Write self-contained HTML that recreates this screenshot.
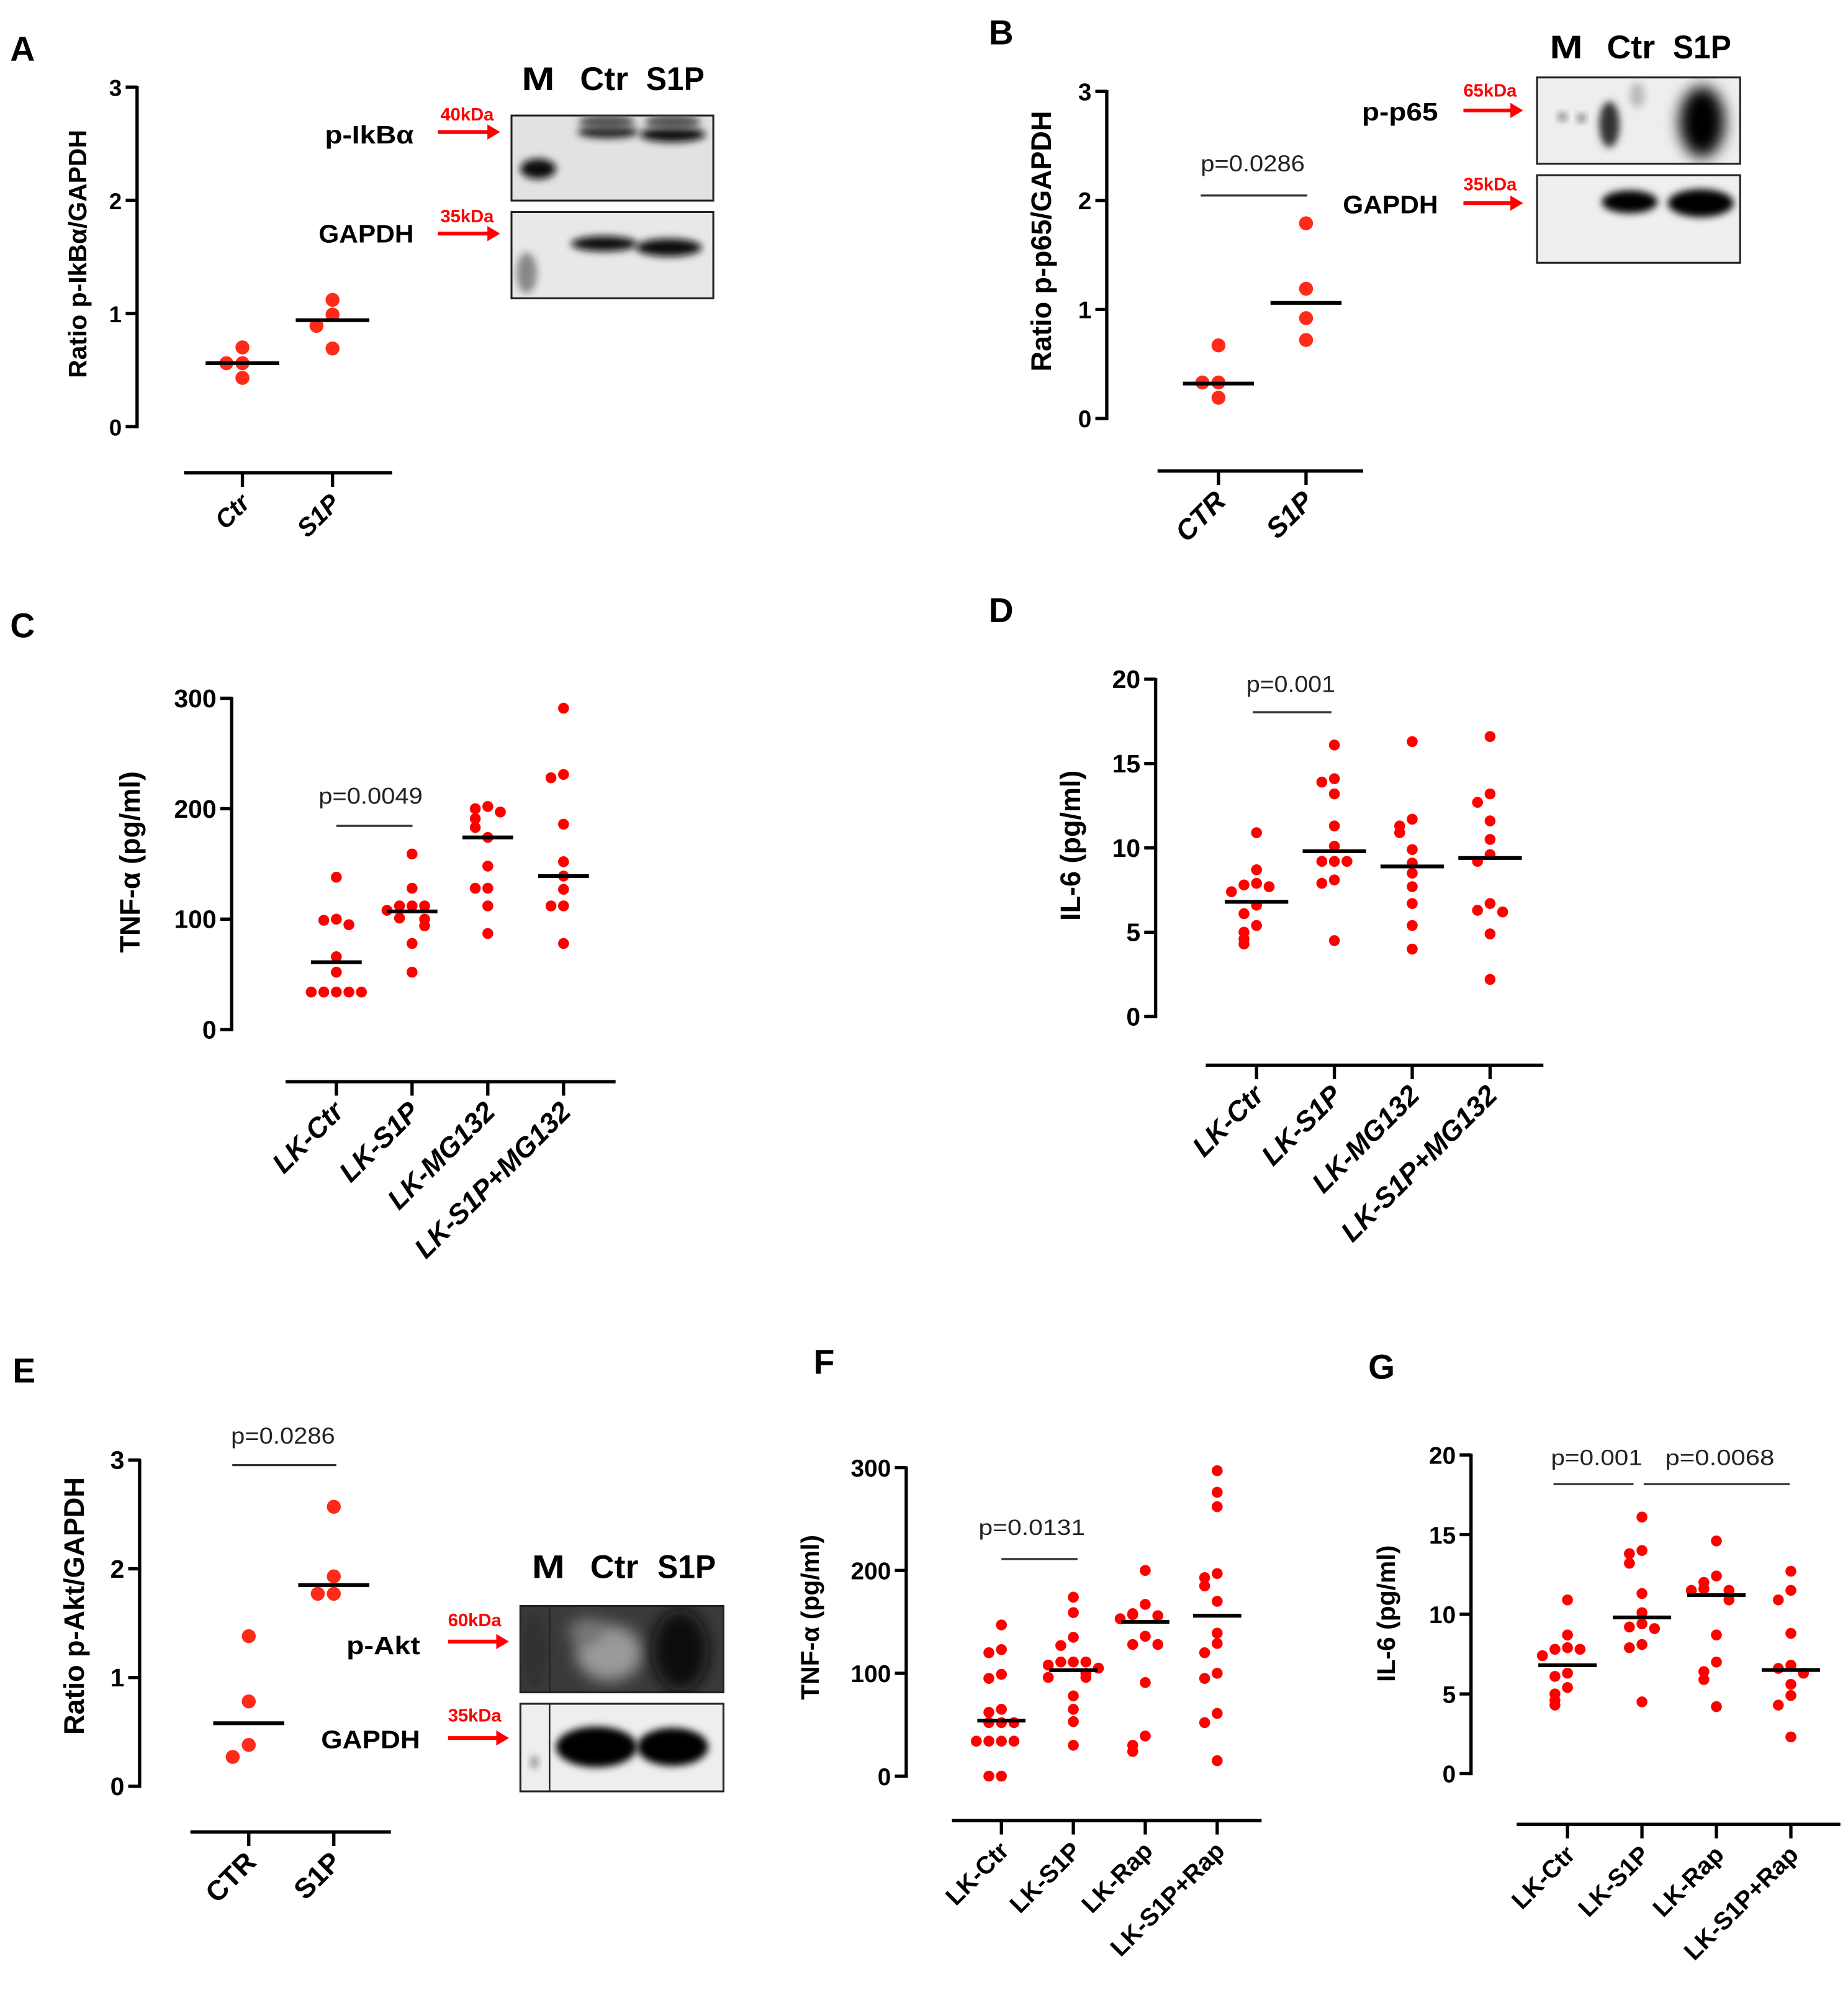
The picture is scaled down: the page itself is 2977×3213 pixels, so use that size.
<!DOCTYPE html>
<html><head><meta charset="utf-8"><style>
html,body{margin:0;padding:0;background:#fff}
svg{display:block}
text{font-family:"Liberation Sans",sans-serif}
</style></head>
<body>
<svg id="fig" xmlns="http://www.w3.org/2000/svg" width="2977" height="3213" viewBox="0 0 1456 1571.4" preserveAspectRatio="none">
<defs>
<filter id="blur3" x="-50%" y="-50%" width="200%" height="200%"><feGaussianBlur stdDeviation="3"/></filter>
<filter id="blur6" x="-50%" y="-50%" width="200%" height="200%"><feGaussianBlur stdDeviation="6"/></filter>
</defs>
<g id="root"></g>
</svg>
<script>
// ---------- DATA ----------
const catsA = ["Ctr", "S1P"];
const valsA = [[0.70, 0.56, 0.56, 0.43], [1.12, 0.99, 0.89, 0.69]];
const medA = [0.56, 0.94];
const ticksA = [0, 1, 2, 3];

const catsB = ["CTR", "S1P"];
const valsB = [[0.67, 0.33, 0.33, 0.19], [1.79, 1.19, 0.92, 0.72]];
const medB = [0.32, 1.06];
const ticksB = [0, 1, 2, 3];

const catsC = ["LK-Ctr", "LK-S1P", "LK-MG132", "LK-S1P+MG132"];
const valsC = [
  [138, 100, 99, 95, 66, 52, 34, 34, 34, 34, 34],
  [159, 128, 112, 112, 112, 108, 101, 100, 94, 78, 52],
  [202, 200, 197, 191, 183, 174, 148, 128, 128, 112, 87],
  [291, 231, 228, 186, 152, 139, 127, 112, 112, 78]
];
const medC = [61, 107, 174, 139];
const ticksC = [0, 100, 200, 300];

const catsD = ["LK-Ctr", "LK-S1P", "LK-MG132", "LK-S1P+MG132"];
const valsD = [
  [10.9, 8.7, 7.9, 7.8, 7.7, 7.4, 6.6, 6.1, 5.4, 5.0, 4.6, 4.3],
  [16.1, 14.1, 13.9, 13.2, 11.3, 10.1, 9.2, 9.2, 9.2, 8.1, 7.9, 4.5],
  [16.3, 11.7, 11.3, 10.9, 9.9, 9.1, 8.5, 7.7, 6.7, 5.4, 4.0],
  [16.6, 13.2, 12.7, 11.6, 10.5, 9.6, 9.2, 6.7, 6.3, 6.2, 4.9, 2.2]
];
const medD = [6.8, 9.8, 8.9, 9.4];
const ticksD = [0, 5, 10, 15, 20];

const catsE = ["CTR", "S1P"];
const valsE = [[1.38, 0.78, 0.38, 0.27], [2.57, 1.93, 1.77, 1.77]];
const medE = [0.58, 1.85];
const ticksE = [0, 1, 2, 3];

const catsF = ["LK-Ctr", "LK-S1P", "LK-Rap", "LK-S1P+Rap"];
const valsF = [
  [147, 123, 120, 99, 95, 65, 62, 52, 52, 52, 34, 34, 34, 34, 0, 0],
  [174, 159, 135, 127, 111, 111, 111, 108, 105, 100, 96, 96, 78, 65, 53, 30],
  [200, 167, 158, 157, 156, 153, 136, 128, 128, 91, 39, 30, 24],
  [297, 276, 262, 197, 193, 185, 170, 139, 129, 120, 100, 95, 61, 52, 15]
];
const medF = [54, 103, 150, 156];
const ticksF = [0, 100, 200, 300];

const catsG = ["LK-Ctr", "LK-S1P", "LK-Rap", "LK-S1P+Rap"];
const valsG = [
  [10.9, 8.7, 7.9, 7.8, 7.8, 7.4, 6.3, 6.1, 5.4, 5.0, 4.6, 4.3],
  [16.1, 14.0, 13.8, 13.2, 11.3, 10.1, 9.4, 9.2, 9.1, 8.1, 7.9, 4.5],
  [14.6, 12.4, 12.0, 11.6, 11.5, 11.5, 10.9, 8.7, 7.0, 6.4, 5.9, 4.2],
  [12.7, 11.5, 10.9, 8.8, 6.8, 6.6, 6.3, 5.6, 4.9, 4.3, 2.3]
];
const medG = [6.8, 9.8, 11.2, 6.5];
const ticksG = [0, 5, 10, 15, 20];

// ---------- DRAWING ----------
const NS = "http://www.w3.org/2000/svg";
const root = document.getElementById("root");
function mk(tag, attrs, parent) {
  const e = document.createElementNS(NS, tag);
  for (const k in attrs) e.setAttribute(k, attrs[k]);
  (parent || root).appendChild(e);
  return e;
}
function txt(s, x, y, attrs, parent) {
  const t = mk("text", Object.assign({x: x, y: y}, attrs), parent);
  t.textContent = s;
  return t;
}

function drawPanel(p) {
  const g = mk("g", {});
  
  
  const lab = txt(p.letter, p.lx, p.ly, {"font-size": 27, "font-weight": "bold", fill: "#000"}, g);
  
  
  const max = p.ticks[p.ticks.length - 1];
  const yS = v => p.y0 - (v / max) * (p.y0 - p.yTop);
  const ax = mk("line", {x1: p.ax, x2: p.ax, y1: p.yTop - 1, y2: p.y0 + 1.3, stroke: "#000", "stroke-width": 2.6}, g);
  
  
  p.ticks.forEach(t => {
    const y = yS(t);
    const tl = mk("line", {x1: p.ax - 9, x2: p.ax, y1: y, y2: y, stroke: "#000", "stroke-width": 2.6}, g);
    
    
    const tt = txt(String(t), p.ax - 12, y + 7, {"font-size": p.tfs, "font-weight": "bold", "text-anchor": "end"}, g);
    
    
  });
  const yt = txt(p.ytitle, 0, 0, {"font-size": p.yfs, "font-weight": "bold", "text-anchor": "middle",
    transform: "translate(" + p.ytx + "," + p.yty + ") rotate(-90)"}, g);
  
  
  const xa = mk("line", {x1: p.xx1, x2: p.xx2, y1: p.xy, y2: p.xy, stroke: "#000", "stroke-width": 2.6}, g);
  
  
  const n = p.cats.length;
  const xS = i => p.cx0 + i * (p.cx1 - p.cx0) / (n - 1);
  p.cats.forEach((c, i) => {
    const x = xS(i);
    const tk = mk("line", {x1: x, x2: x, y1: p.xy, y2: p.xy + 11, stroke: "#000", "stroke-width": 2.6}, g);
    
    
    const ct = txt(c, 0, 0, {"font-size": p.cfs, "font-weight": "bold", "font-style": p.italic ? "italic" : "normal",
      "text-anchor": "end", transform: "translate(" + (x + 7) + "," + (p.xy + 25) + ") rotate(-45)"}, g);
    
    
  });
  p.vals.forEach((arr, i) => {
    const cx = xS(i);
    const placed = [];
    arr.forEach(v => {
      const y = yS(v);
      const near = placed.filter(q => Math.abs(q.y - y) < p.r * 1.8);
      const k = near.length;
      const off = k === 0 ? 0 : (k % 2 === 1 ? -1 : 1) * Math.ceil(k / 2) * p.r * 2.3;
      placed.push({y: y, off: off});
      const d = mk("circle", {cx: cx + off, cy: y, r: p.r, fill: p.color}, g);
      
      
    });
    const my = yS(p.med[i]);
    const ml = mk("line", {x1: cx - p.mh, x2: cx + p.mh, y1: my, y2: my, stroke: "#000", "stroke-width": 3}, g);
    
    
  });
  (p.pbars || []).forEach(b => {
    const pl = mk("line", {x1: b.x1, x2: b.x2, y1: b.y, y2: b.y, stroke: "#333", "stroke-width": 1.6}, g);
    
    
    const pt = txt(b.t, b.tx, b.ty, {"font-size": p.pfs, "text-anchor": "middle", fill: "#222", textLength: b.tl, lengthAdjust: "spacingAndGlyphs"}, g);
    
    
  });
}

function drawBlot(b) {
  const g = mk("g", {});
  
  
  b.lanes.forEach(l => {
    const t = txt(l.t, l.x, b.laneY, {"font-size": 26, "font-weight": "bold", "text-anchor": "middle", textLength: l.w, lengthAdjust: "spacingAndGlyphs"}, g);
    
    
  });
  b.rows.forEach(r => {
    const box = mk("rect", {x: b.x1, y: r.y1, width: b.x2 - b.x1, height: r.y2 - r.y1, fill: r.bg, stroke: "#222", "stroke-width": 1.5}, g);
    
    
    const clip = "c" + Math.round(r.y1) + b.id;
    const cp = mk("clipPath", {id: clip}, g);
    mk("rect", {x: b.x1, y: r.y1, width: b.x2 - b.x1, height: r.y2 - r.y1}, cp);
    const bg = mk("g", {"clip-path": "url(#" + clip + ")"}, g);
    r.bands.forEach(bd => {
      const e = mk("ellipse", {cx: bd[0], cy: bd[1], rx: bd[2], ry: bd[3], fill: bd[4], filter: "url(#" + (bd[5] || "blur3") + ")"}, bg);
      
      
    });
    if (b.divider) {
      const dl = mk("line", {x1: b.divider, x2: b.divider, y1: r.y1, y2: r.y2, stroke: "#222", "stroke-width": 1.2}, g);
      
      
    }
    const nm = txt(r.name, b.nameX, r.nameY, {"font-size": 20, "font-weight": "bold", "text-anchor": "end", textLength: r.nw, lengthAdjust: "spacingAndGlyphs"}, g);
    
    
    const ar = mk("line", {x1: b.arX1, x2: b.arX2 - 8, y1: r.arY, y2: r.arY, stroke: "#f00", "stroke-width": 3}, g);
    
    
    const ah = mk("polygon", {points: (b.arX2) + "," + r.arY + " " + (b.arX2 - 10) + "," + (r.arY - 6) + " " + (b.arX2 - 10) + "," + (r.arY + 6), fill: "#f00"}, g);
    
    
    const kd = txt(r.kda, b.kX, r.kY, {"font-size": 14, "font-weight": "bold", fill: "#f00", "text-anchor": "middle", textLength: 42, lengthAdjust: "spacingAndGlyphs"}, g);
    
    
  });
}

const RED = "#ff0000", ORG = "#ff2a1a";
drawPanel({id: "a", letter: "A", lx: 8, ly: 48, ax: 108, y0: 336, yTop: 68.6, ticks: ticksA, tfs: 18,
  ytitle: "Ratio p-IkB\u03b1/GAPDH", yfs: 20, ytx: 68, yty: 200,
  xx1: 145, xx2: 309, xy: 372.5, cx0: 191, cx1: 262, cats: catsA, cfs: 20, italic: true,
  vals: valsA, med: medA, r: 5.5, color: ORG, mh: 29, pfs: 18});
drawPanel({id: "b", letter: "B", lx: 779, ly: 35, ax: 872, y0: 329.6, yTop: 72, ticks: ticksB, tfs: 19,
  ytitle: "Ratio p-p65/GAPDH", yfs: 22, ytx: 828, yty: 190,
  xx1: 912, xx2: 1074, xy: 371, cx0: 960, cx1: 1029, cats: catsB, cfs: 22, italic: true,
  vals: valsB, med: medB, r: 5.5, color: ORG, mh: 28, pfs: 18,
  pbars: [{x1: 946, x2: 1030, y: 154, t: "p=0.0286", tx: 987, ty: 135, tl: 82}]});
drawPanel({id: "c", letter: "C", lx: 8, ly: 502, ax: 182.5, y0: 811, yTop: 550, ticks: ticksC, tfs: 20,
  ytitle: "TNF-\u03b1 (pg/ml)", yfs: 22, ytx: 110, yty: 679,
  xx1: 225, xx2: 485, xy: 852, cx0: 265, cx1: 444, cats: catsC, cfs: 22, italic: true,
  vals: valsC, med: medC, r: 4.3, color: RED, mh: 20, pfs: 18,
  pbars: [{x1: 265, x2: 325, y: 650.5, t: "p=0.0049", tx: 292, ty: 633, tl: 82}]});
drawPanel({id: "d", letter: "D", lx: 779, ly: 490, ax: 910.5, y0: 800.7, yTop: 535, ticks: ticksD, tfs: 20,
  ytitle: "IL-6 (pg/ml)", yfs: 22, ytx: 851, yty: 666,
  xx1: 950, xx2: 1216, xy: 839, cx0: 990, cx1: 1174, cats: catsD, cfs: 22, italic: true,
  vals: valsD, med: medD, r: 4.3, color: RED, mh: 25, pfs: 18,
  pbars: [{x1: 987, x2: 1049, y: 561, t: "p=0.001", tx: 1017, ty: 545, tl: 70}]});
drawPanel({id: "e", letter: "E", lx: 10, ly: 1089, ax: 110, y0: 1407, yTop: 1150, ticks: ticksE, tfs: 20,
  ytitle: "Ratio p-Akt/GAPDH", yfs: 22, ytx: 66, yty: 1265,
  xx1: 150, xx2: 308, xy: 1443, cx0: 196, cx1: 263, cats: catsE, cfs: 22, italic: false,
  vals: valsE, med: medE, r: 5.5, color: ORG, mh: 28, pfs: 18,
  pbars: [{x1: 183, x2: 265, y: 1154, t: "p=0.0286", tx: 223, ty: 1137, tl: 82}]});
drawPanel({id: "f", letter: "F", lx: 641, ly: 1082, ax: 714, y0: 1399, yTop: 1156, ticks: ticksF, tfs: 19,
  ytitle: "TNF-\u03b1 (pg/ml)", yfs: 20, ytx: 645, yty: 1274,
  xx1: 750, xx2: 994, xy: 1434, cx0: 789, cx1: 959, cats: catsF, cfs: 19.5, italic: false,
  vals: valsF, med: medF, r: 4.3, color: RED, mh: 19, pfs: 17,
  pbars: [{x1: 789, x2: 849, y: 1228, t: "p=0.0131", tx: 813, ty: 1209, tl: 84}]});
drawPanel({id: "g", letter: "G", lx: 1078, ly: 1086, ax: 1159, y0: 1397, yTop: 1146, ticks: ticksG, tfs: 19,
  ytitle: "IL-6 (pg/ml)", yfs: 20, ytx: 1099, yty: 1271,
  xx1: 1195, xx2: 1450, xy: 1437, cx0: 1235, cx1: 1411, cats: catsG, cfs: 19.5, italic: false,
  vals: valsG, med: medG, r: 4.3, color: RED, mh: 23, pfs: 17,
  pbars: [{x1: 1224, x2: 1287, y: 1169, t: "p=0.001", tx: 1258, ty: 1154, tl: 72},
          {x1: 1295, x2: 1410, y: 1169, t: "p=0.0068", tx: 1355, ty: 1154, tl: 86}]});

drawBlot({id: "a", x1: 403, x2: 562, laneY: 71, divider: 0, nameX: 326, arX1: 345, arX2: 394, kX: 368,
  lanes: [{t: "M", x: 424, w: 26}, {t: "Ctr", x: 476, w: 38}, {t: "S1P", x: 532, w: 46}],
  rows: [
    {y1: 91, y2: 158, bg: "#e2e2e2", name: "p-IkB\u03b1", nameY: 113, nw: 70, arY: 104, kda: "40kDa", kY: 95,
     bands: [[424, 133, 14, 8, "#111"], [479, 104, 24, 5, "#222"], [530, 106, 26, 6, "#111"], [478, 96, 22, 6, "#555"], [530, 96, 22, 6, "#555"]]},
    {y1: 167, y2: 235, bg: "#e8e8e8", name: "GAPDH", nameY: 191, nw: 75, arY: 184, kda: "35kDa", kY: 175,
     bands: [[476, 192, 26, 6, "#111"], [527, 195, 26, 7, "#111"], [415, 215, 8, 16, "#888"]]}
  ]});
drawBlot({id: "b", x1: 1211, x2: 1371, laneY: 46, divider: 0, nameX: 1133, arX1: 1153, arX2: 1200, kX: 1174,
  lanes: [{t: "M", x: 1234, w: 26}, {t: "Ctr", x: 1285, w: 38}, {t: "S1P", x: 1341, w: 46}],
  rows: [
    {y1: 61, y2: 129, bg: "#eeeeee", name: "p-p65", nameY: 95, nw: 60, arY: 87, kda: "65kDa", kY: 76,
     bands: [[1268, 98, 8, 18, "#333"], [1231, 92, 3, 3, "#555"], [1246, 93, 3, 3, "#555"], [1341, 96, 18, 28, "#000", "blur6"], [1290, 75, 6, 10, "#bbb"]]},
    {y1: 138, y2: 207, bg: "#efefef", name: "GAPDH", nameY: 168, nw: 75, arY: 160, kda: "35kDa", kY: 150,
     bands: [[1284, 159, 22, 9, "#000"], [1340, 160, 26, 11, "#000"]]}
  ]});
drawBlot({id: "e", x1: 410, x2: 570, laneY: 1243, divider: 433, nameX: 331, arX1: 353, arX2: 401, kX: 374,
  lanes: [{t: "M", x: 432, w: 26}, {t: "Ctr", x: 484, w: 38}, {t: "S1P", x: 541, w: 46}],
  rows: [
    {y1: 1265, y2: 1333, bg: "#3a3a3a", name: "p-Akt", nameY: 1303, nw: 58, arY: 1293, kda: "60kDa", kY: 1281,
     bands: [[480, 1302, 26, 22, "#9a9a9a", "blur6"], [462, 1285, 14, 10, "#777", "blur6"], [536, 1300, 22, 32, "#111", "blur6"], [421, 1300, 10, 30, "#333"]]},
    {y1: 1342, y2: 1411, bg: "#eeeeee", name: "GAPDH", nameY: 1377, nw: 78, arY: 1369, kda: "35kDa", kY: 1356,
     bands: [[470, 1376, 32, 16, "#000"], [530, 1376, 28, 15, "#000"], [421, 1388, 3, 5, "#888"]]}
  ]});
</script>
</body></html>
